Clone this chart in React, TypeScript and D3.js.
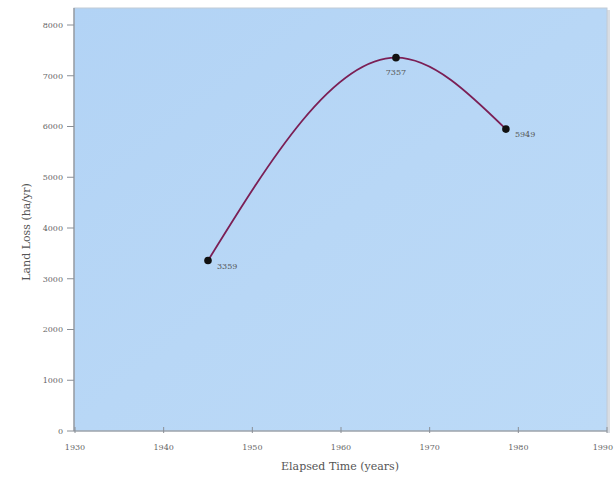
import React from "react";
import * as d3 from "d3";

const years = [1945, 1966.2, 1978.6];
const landLoss = [3359, 7357, 5949];
const pointLabels = ["3359", "7357", "5949"];
const xTicks = [1930, 1940, 1950, 1960, 1970, 1980, 1990];
const yTicks = [0, 1000, 2000, 3000, 4000, 5000, 6000, 7000, 8000];

export default function App() {
  const W = 614, H = 477;
  const left = 75, right = 607, top = 8, bottom = 431;
  const x = d3.scaleLinear().domain([1930, 1990]).range([left, right]);
  const y = d3.scaleLinear().domain([0, 8000]).range([bottom, 25]);
  const pts = years.map((yr, i) => [x(yr), y(landLoss[i])] as [number, number]);
  const line = d3.line().curve(d3.curveMonotoneX)(pts) || "";
  const font = "'DejaVu Serif', 'Liberation Serif', serif";
  return (
    <svg width={W} height={H} style={{ position: "absolute", left: 0, top: 0, background: "#fff" }}>
      <defs>
        <linearGradient id="bg" x1="0" y1="0" x2="1" y2="1">
          <stop offset="0" stopColor="#b2d3f5" />
          <stop offset="0.5" stopColor="#b8d7f6" />
          <stop offset="1" stopColor="#bcdaf7" />
        </linearGradient>
      </defs>
      <rect x={right} y={top + 2} width={3} height={bottom - top} fill="#d9dde3" />
      <rect x={left - 1} y={top} width={right - left + 1} height={bottom - top} fill="url(#bg)" stroke="#c2cbd6" strokeWidth={1} />
      <line x1={left - 1} x2={left - 1} y1={top} y2={bottom} stroke="#8a8f96" strokeWidth={1.2} />
      <line x1={left - 1} x2={right} y1={bottom} y2={bottom} stroke="#8a8f96" strokeWidth={1.2} />
      {yTicks.map((t) => (
        <g key={t}>
          <line x1={left - 8} x2={left - 1} y1={y(t)} y2={y(t)} stroke="#8a8f96" strokeWidth={1} />
          <text x={left - 12} y={y(t)} dy="0.35em" textAnchor="end" fontSize={8} fill="#666" fontFamily={font}>{t}</text>
        </g>
      ))}
      {xTicks.map((t, i) => (
        <g key={t}>
          <line x1={x(t)} x2={x(t)} y1={bottom - 4} y2={bottom + 2} stroke="#8a8f96" strokeWidth={1} />
          <text x={i === xTicks.length - 1 ? 613 : x(t)} y={bottom + 19} textAnchor={i === xTicks.length - 1 ? "end" : "middle"} fontSize={8} fill="#666" fontFamily={font}>{t}</text>
        </g>
      ))}
      <path d={line} fill="none" stroke="#7b1f55" strokeWidth={1.8} />
      {pts.map((p, i) => (
        <g key={i}>
          <circle cx={p[0]} cy={p[1]} r={3.8} fill="#111" />
          <text
            x={p[0] + (i === 1 ? 0 : 9)}
            y={p[1] + (i === 1 ? 17 : 8)}
            textAnchor={i === 1 ? "middle" : "start"}
            fontSize={8}
            fill="#555"
            fontFamily={font}
          >{pointLabels[i]}</text>
        </g>
      ))}
      <text x={340} y={470} textAnchor="middle" fontSize={11} fill="#555" fontFamily={font}>Elapsed Time (years)</text>
      <text transform={`translate(30,232) rotate(-90)`} textAnchor="middle" fontSize={11} fill="#555" fontFamily={font}>Land Loss (ha/yr)</text>
    </svg>
  );
}
